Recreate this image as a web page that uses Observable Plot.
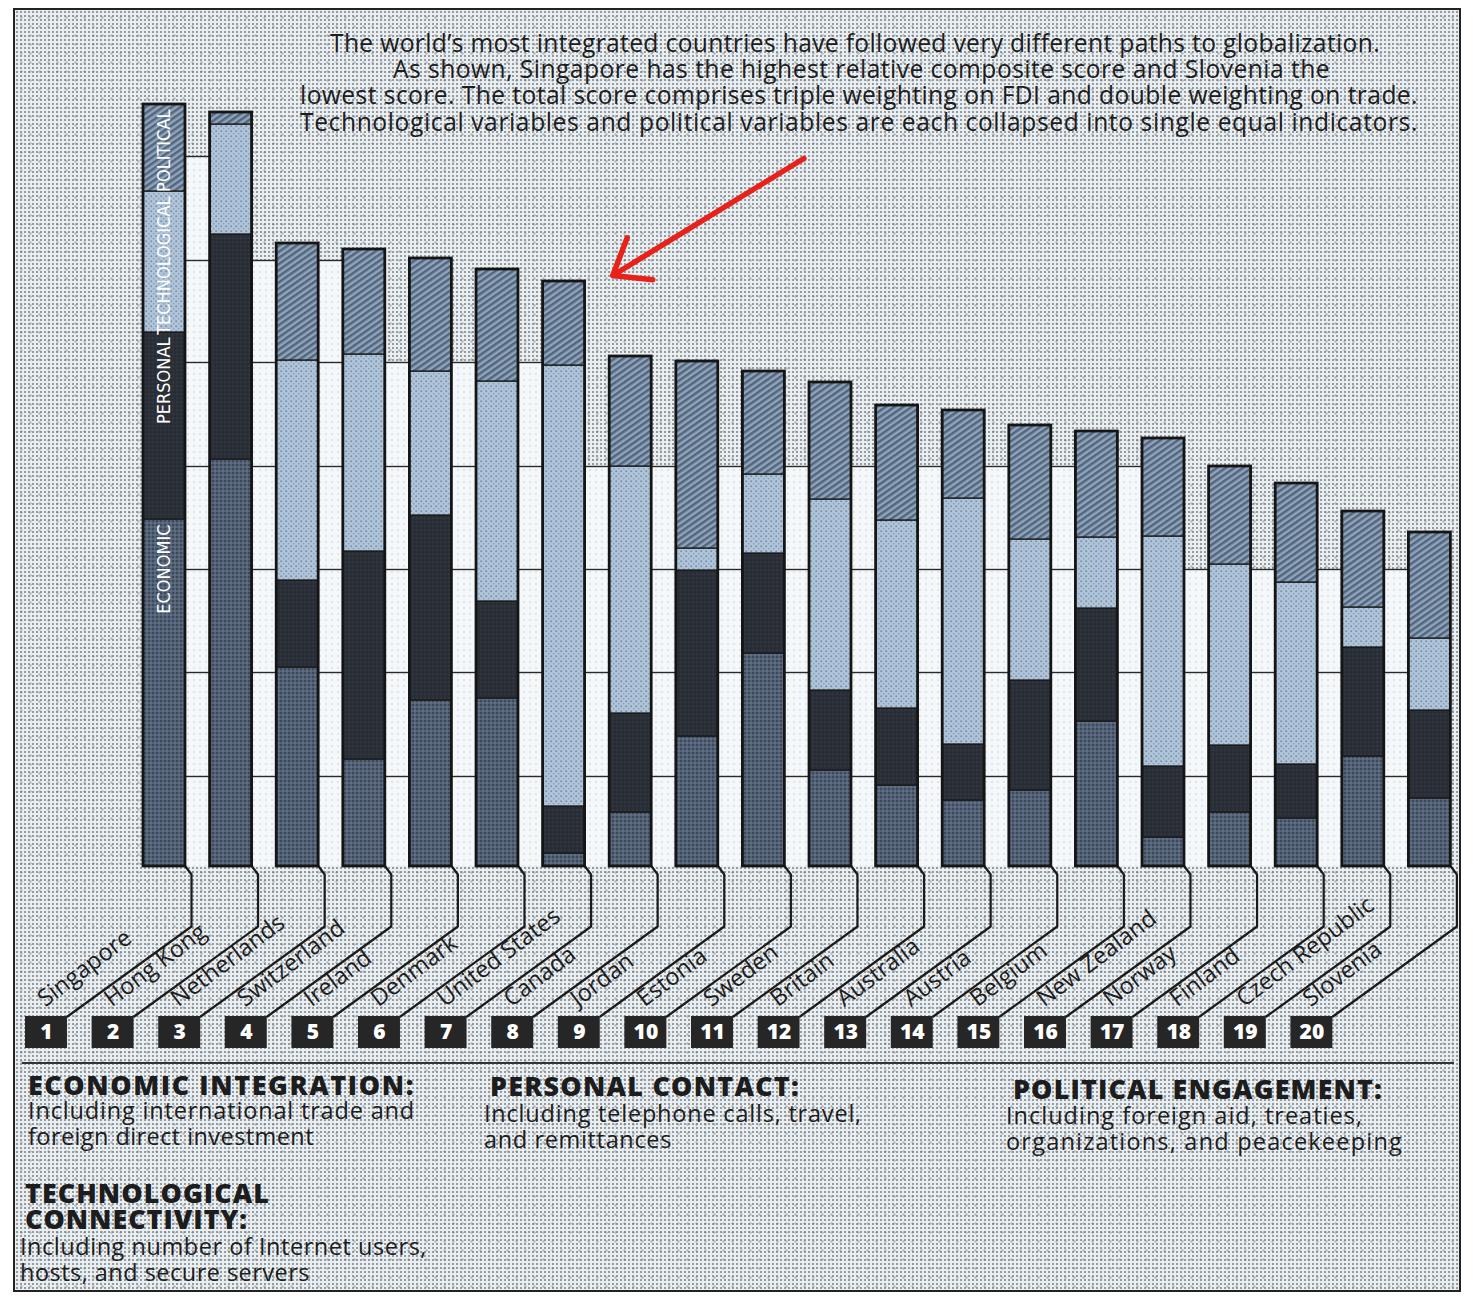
<!DOCTYPE html>
<html>
<head>
<meta charset="utf-8">
<script src="https://cdn.jsdelivr.net/npm/d3@7"></script>
<script src="https://cdn.jsdelivr.net/npm/@observablehq/plot@0.6"></script>
<style>
  html, body { margin: 0; padding: 0; background: #ffffff; }
  #page { position: relative; width: 1473px; height: 1299px; overflow: hidden;
          font-family: "Open Sans", Lato, sans-serif; color: #1d1d1d; }
  #frame { position: absolute; left: 13px; top: 8px; width: 1448px; height: 1284px;
           border: 2px solid #222; box-sizing: border-box;
           background-color: #e9eef1;
           background-image:
             radial-gradient(circle, rgba(95,100,110,0.6) 0.95px, transparent 1.4px),
             radial-gradient(circle, rgba(140,145,155,0.5) 1px, transparent 1.5px);
           background-size: 4px 4px, 9px 9px;
           background-position: 0 0, 2px 3px; }
  #chart { position: absolute; left: 0; top: 0; }
  .t { position: absolute; white-space: nowrap; line-height: 1; }
  .tline { font-size: 22px; }
  .lh { font-weight: 800; font-size: 22px; }
  .lb { font-size: 21px; }
  #rule { position: absolute; left: 22px; top: 1062px; width: 1432px; height: 0; border-top: 2px solid #333; }
</style>
</head>
<body>
<svg width="0" height="0" style="position:absolute">
  <defs>
    <pattern id="pEcon" width="4" height="4" patternUnits="userSpaceOnUse">
      <rect width="4" height="4" fill="#526176"/>
      <circle cx="1" cy="1" r="0.9" fill="#333c4a"/>
      <circle cx="3" cy="3" r="0.7" fill="#7688a0"/>
    </pattern>
    <pattern id="pPers" width="4" height="4" patternUnits="userSpaceOnUse">
      <rect width="4" height="4" fill="#2a2e36"/>
      <circle cx="1" cy="2" r="0.6" fill="#464d59"/>
      <circle cx="3" cy="0" r="0.5" fill="#1b1e24"/>
    </pattern>
    <pattern id="pTech" width="5" height="5" patternUnits="userSpaceOnUse">
      <rect width="5" height="5" fill="#adc6de"/>
      <circle cx="1.2" cy="1.2" r="1.05" fill="#858f9c"/>
      <circle cx="3.7" cy="3.7" r="0.85" fill="#939eab"/>
    </pattern>
    <pattern id="pPol" width="5" height="5" patternUnits="userSpaceOnUse" patternTransform="rotate(-35)">
      <rect width="5" height="5" fill="#8fa5bd"/>
      <rect width="5" height="2.5" fill="#54667c"/>
    </pattern>
    <pattern id="pGap" width="6" height="6" patternUnits="userSpaceOnUse">
      <rect width="6" height="6" fill="#f5f8fa"/>
      <circle cx="2" cy="2" r="0.75" fill="#c4c9cf"/>
    </pattern>
  </defs>
</svg>

<div id="page">
  <div id="frame"></div>
  <div id="chart"></div>
  <!-- data-w: measured width, data-y: vertical centre of the line on the picture -->
  <div class="t tline" data-w="1050" data-y="44" style="left:330px">The world’s most integrated countries have followed very different paths to globalization.</div>
  <div class="t tline" data-w="937" data-y="70" style="left:393px">As shown, Singapore has the highest relative composite score and Slovenia the</div>
  <div class="t tline" data-w="1118" data-y="96" style="left:300px">lowest score. The total score comprises triple weighting on FDI and double weighting on trade.</div>
  <div class="t tline" data-w="1118" data-y="123" style="left:300px">Technological variables and political variables are each collapsed into single equal indicators.</div>

  <div id="rule"></div>
  <div class="t lh" data-w="387" data-y="1086" data-max="1.22" style="left:28px">ECONOMIC INTEGRATION:</div>
  <div class="t lb" data-w="387" data-y="1112" style="left:28px">Including international trade and</div>
  <div class="t lb" data-w="286" data-y="1138" style="left:28px">foreign direct investment</div>

  <div class="t lh" data-w="310" data-y="1087" data-max="1.22" style="left:490px">PERSONAL CONTACT:</div>
  <div class="t lb" data-w="378" data-y="1115" style="left:484px">Including telephone calls, travel,</div>
  <div class="t lb" data-w="188" data-y="1141" style="left:484px">and remittances</div>

  <div class="t lh" data-w="370" data-y="1090" data-max="1.22" style="left:1013px">POLITICAL ENGAGEMENT:</div>
  <div class="t lb" data-w="357" data-y="1117" style="left:1006px">Including foreign aid, treaties,</div>
  <div class="t lb" data-w="397" data-y="1143" style="left:1006px">organizations, and peacekeeping</div>

  <div class="t lh" data-w="245" data-y="1194" data-max="1.22" style="left:25px">TECHNOLOGICAL</div>
  <div class="t lh" data-w="223" data-y="1220" data-max="1.22" style="left:25px">CONNECTIVITY:</div>
  <div class="t lb" data-w="407" data-y="1248" style="left:20px">Including number of Internet users,</div>
  <div class="t lb" data-w="290" data-y="1274" style="left:20px">hosts, and secure servers</div>
</div>

<script>
// ---- Data (relative composite score units) ----
const countries = ["Singapore", "Hong Kong", "Netherlands", "Switzerland", "Ireland",
  "Denmark", "United States", "Canada", "Jordan", "Estonia", "Sweden", "Britain",
  "Australia", "Austria", "Belgium", "New Zealand", "Norway", "Finland",
  "Czech Republic", "Slovenia"];
const economic      = [34.7, 40.7, 19.9, 10.7, 16.6, 16.8, 1.3, 5.4, 13.0, 21.3, 9.6, 8.1, 6.6, 7.6, 14.5, 2.9, 5.4, 4.8, 11.0, 6.8];
const personal      = [18.7, 22.5,  8.7, 20.8, 18.5,  9.7, 4.7, 9.9, 16.6, 10.0, 8.0, 7.7, 5.6, 11.0, 11.3, 7.1, 6.7, 5.4, 10.9, 8.8];
const technological = [14.1, 11.0, 22.0, 19.7, 14.4, 22.0, 44.1, 24.7, 2.2, 7.9, 19.1, 18.8, 24.6, 14.1, 7.1, 23.0, 18.1, 18.2, 4.0, 7.2];
const political     = [ 8.7,  1.2, 11.7, 10.5, 11.3, 11.2, 8.4, 11.0, 18.7, 10.3, 11.7, 11.5, 8.8, 11.4, 10.6, 9.8, 9.8, 9.9, 9.6, 10.6];
const seriesNames   = ["Economic", "Personal", "Technological", "Political"];
const gridLevels    = [9, 19.4, 29.7, 40, 50.4, 60.6, 71];
const arrowTarget   = ["United States"];

// ---- Derived tables ----
const seriesValues = [economic, personal, technological, political];
const segs = [];
countries.forEach((c, i) => {
  let base = 0;
  seriesNames.forEach((s, k) => {
    const v = seriesValues[k][i];
    segs.push({country: c, i, series: s, y1: base, y2: base + v});
    base += v;
  });
});
const totals = countries.map((c, i) => ({country: c, i, rank: i + 1,
  total: economic[i] + personal[i] + technological[i] + political[i]}));
const gaps = d3.range(countries.length - 1).map(i => {
  const m = Math.min(totals[i].total, totals[i + 1].total);
  return {i, level: d3.max(gridLevels.filter(g => g <= m - 1))};
});
const gridSegs = gaps.flatMap(g => gridLevels.filter(l => l <= g.level).map(l => ({i: g.i, y: l})));

// layout constants (band units / score units)
const hw = 0.315;        // half bar width
const jog = 0.09;        // small step of leader
const shift = 1.772;     // box offset to the left of its bar
const bhw = 0.315;       // half box width
const boxTop = -15.0, boxBot = -18.2;

const leaders = totals.flatMap(d => [
  {country: d.country, x: d.i + hw, y: 0},
  {country: d.country, x: d.i + hw + jog, y: -0.8},
  {country: d.country, x: d.i + hw + jog, y: -6.0},
  {country: d.country, x: d.i - shift + bhw, y: boxTop}
]);

const arrows = totals.filter(d => arrowTarget.includes(d.country))
  .map(d => ({x2: d.i + 0.73, y2: d.total + 0.6, x1: d.i + 3.6, y1: d.total + 12.3}));

const chart = Plot.plot({
  width: 1473, height: 1299,
  marginLeft: 130.7, marginRight: 10.3, marginTop: 66, marginBottom: 0,
  x: {type: "linear", domain: [-0.5, countries.length - 0.5], axis: null},
  y: {domain: [-43.3, 80], axis: null},
  color: {domain: seriesNames, range: ["url(#pEcon)", "url(#pPers)", "url(#pTech)", "url(#pPol)"]},
  style: {background: "transparent", overflow: "visible"},
  marks: [
    Plot.rect(gaps, {x1: d => d.i + hw, x2: d => d.i + 1 - hw, y1: 0, y2: "level", fill: "url(#pGap)"}),
    Plot.ruleY(gridSegs, {y: "y", x1: d => d.i + hw, x2: d => d.i + 1 - hw, stroke: "#2a2a2a", strokeWidth: 1.4}),
    Plot.line(leaders, {x: "x", y: "y", z: "country", stroke: "#1b1b1b", strokeWidth: 2.2, curve: "linear"}),
    Plot.rect(segs, {x1: d => d.i - hw, x2: d => d.i + hw, y1: "y1", y2: "y2", fill: "series",
      stroke: "#1a1a1a", strokeWidth: 1.3}),
    Plot.rect(totals, {x1: d => d.i - hw, x2: d => d.i + hw, y1: 0, y2: "total",
      fill: "none", stroke: "#151515", strokeWidth: 2.8}),
    Plot.text(segs.filter(d => d.i === 0), {x: "i", y: "y2", text: d => d.series.toUpperCase(),
      rotate: -90, textAnchor: "end", lineAnchor: "middle", dy: 5, fill: "#ffffff",
      fontSize: 18, fontFamily: "'Liberation Sans Narrow', 'DejaVu Sans Condensed', sans-serif"}),
    Plot.rect(totals, {x1: d => d.i - shift - bhw, x2: d => d.i - shift + bhw, y1: boxBot, y2: boxTop, fill: "#262626"}),
    Plot.text(totals, {x: d => d.i - shift, y: (boxTop + boxBot) / 2, text: "rank", fill: "#ffffff",
      fontSize: 21, fontWeight: 800, fontFamily: "'Open Sans', sans-serif"}),
    Plot.text(totals, {x: d => d.i - shift - 0.02, y: -14.1, text: "country", rotate: -37,
      textAnchor: "start", lineAnchor: "bottom", fill: "#1d1d1d", fontSize: 23.5, fontFamily: "'Open Sans', sans-serif"}),
    Plot.arrow(arrows, {x1: "x1", y1: "y1", x2: "x2", y2: "y2", stroke: "#e8211b", strokeWidth: 5.5,
      headLength: 11, headAngle: 75})
  ]
});
document.getElementById("chart").appendChild(chart);

// fit text lines to the widths and positions measured on the picture:
// grow the font (up to a limit), then close the rest with letter spacing
function fit() {
  document.querySelectorAll("[data-w]").forEach(el => {
    if (!el.dataset.base) el.dataset.base = parseFloat(getComputedStyle(el).fontSize);
    const base = +el.dataset.base;
    const maxScale = el.dataset.max ? +el.dataset.max : 1.12;
    el.style.letterSpacing = "0px";
    el.style.fontSize = base + "px";
    let w = el.getBoundingClientRect().width;
    const target = +el.dataset.w;
    const size = base * Math.max(0.9, Math.min(maxScale, target / w));
    el.style.fontSize = size.toFixed(2) + "px";
    w = el.getBoundingClientRect().width;
    const n = el.textContent.length;
    el.style.letterSpacing = ((target - w) / n).toFixed(3) + "px";
    el.style.top = (+el.dataset.y - size / 2 - 1).toFixed(1) + "px";
  });
}
fit();
if (document.fonts && document.fonts.ready) document.fonts.ready.then(fit);
</script>
</body>
</html>
